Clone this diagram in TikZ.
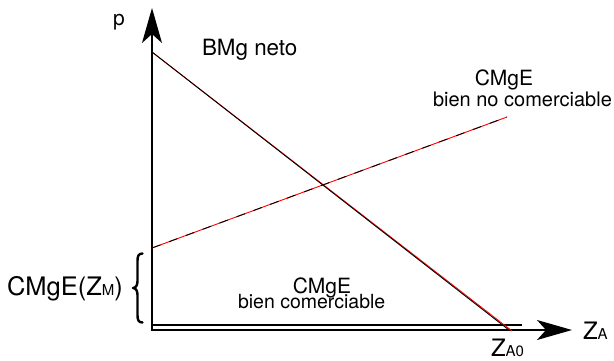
\documentclass[tikz,border=0pt]{standalone}
\usepackage{fontspec}
\setmainfont{TeX Gyre Heros}
\usetikzlibrary{arrows.meta}
\tikzset{
  lbl/.style={inner sep=0pt, outer sep=0pt, font=\fontsize{21}{24}\selectfont},
  axis/.style={line width=1.6pt, -{Stealth[length=35pt,width=20pt,inset=9pt]}},
  curve/.style={line width=0.9pt},
  bracestyle/.style={line width=2.4pt, line cap=round, line join=round},
}
\newcommand{\sm}[1]{{\fontsize{15}{15}\selectfont #1}}
\begin{document}
\begin{tikzpicture}[x=1pt,y=-1pt]
\useasboundingbox (0,0) rectangle (614,360);
% axes
\coordinate (O) at (152,331);
\coordinate (Ptop) at (152,8);
\coordinate (Xend) at (572,330);
\coordinate (U0) at (152,325);
\coordinate (U1) at (522,325);
\coordinate (L0) at (151.2,330);
\draw[axis] (O) -- (Ptop);
\draw[axis] (L0) -- (Xend);
\draw[line width=1.4pt] (U0) -- (U1);
% BMg neto line
\coordinate (B0) at (152,52);
\coordinate (B1) at (512,331);
\coordinate (B2) at (509,330);
\draw[curve, red] (B0) -- (B1);
\draw[curve, black] (B0) -- (B2);
% CMgE bien no comerciable
\coordinate (C0) at (152,248);
\coordinate (C1) at (507,117);
\draw[curve, red] (C0) -- (C1);
\draw[curve, black, dash pattern=on 9pt off 9pt] (C0) -- (C1);
% brace
\draw[bracestyle] (142.5,253.5) .. controls (138.5,253.5) and (137.5,256) .. (137.5,261)
  -- (137.5,281) .. controls (137.5,285) and (136,288) .. (133,288)
  .. controls (136,288) and (137.5,291) .. (137.5,295)
  -- (137.5,315) .. controls (137.5,320) and (138.5,322.5) .. (142.5,322.5);
% labels
\node[lbl, anchor=base west] (p) at (113,25) {p};
\node[lbl, anchor=base west, font=\fontsize{22.4}{24}\selectfont] (bmg) at (202,55) {BMg neto};
\node[lbl, anchor=base] (cm1) at (504,85) {CMgE};
\node[lbl, anchor=base west, font=\fontsize{20}{24}\selectfont] (bnc) at (433,106) {bien no comerciable};
\node[lbl, anchor=base] (cm2) at (322,293) {CMgE};
\node[lbl, anchor=base west, font=\fontsize{19.5}{24}\selectfont] (bc) at (238,308) {bien comerciable};
\node[lbl, anchor=base west, font=\fontsize{25.5}{26}\selectfont] (cmz) at (7,295) {CMgE(Z\sm{M})};
\node[lbl, anchor=base west, font=\fontsize{24}{26}\selectfont] (za) at (583,339) {Z\sm{A}};
\node[lbl, anchor=base west, font=\fontsize{24}{26}\selectfont] (za0) at (491,356) {Z\sm{A0}};
\end{tikzpicture}
\end{document}
